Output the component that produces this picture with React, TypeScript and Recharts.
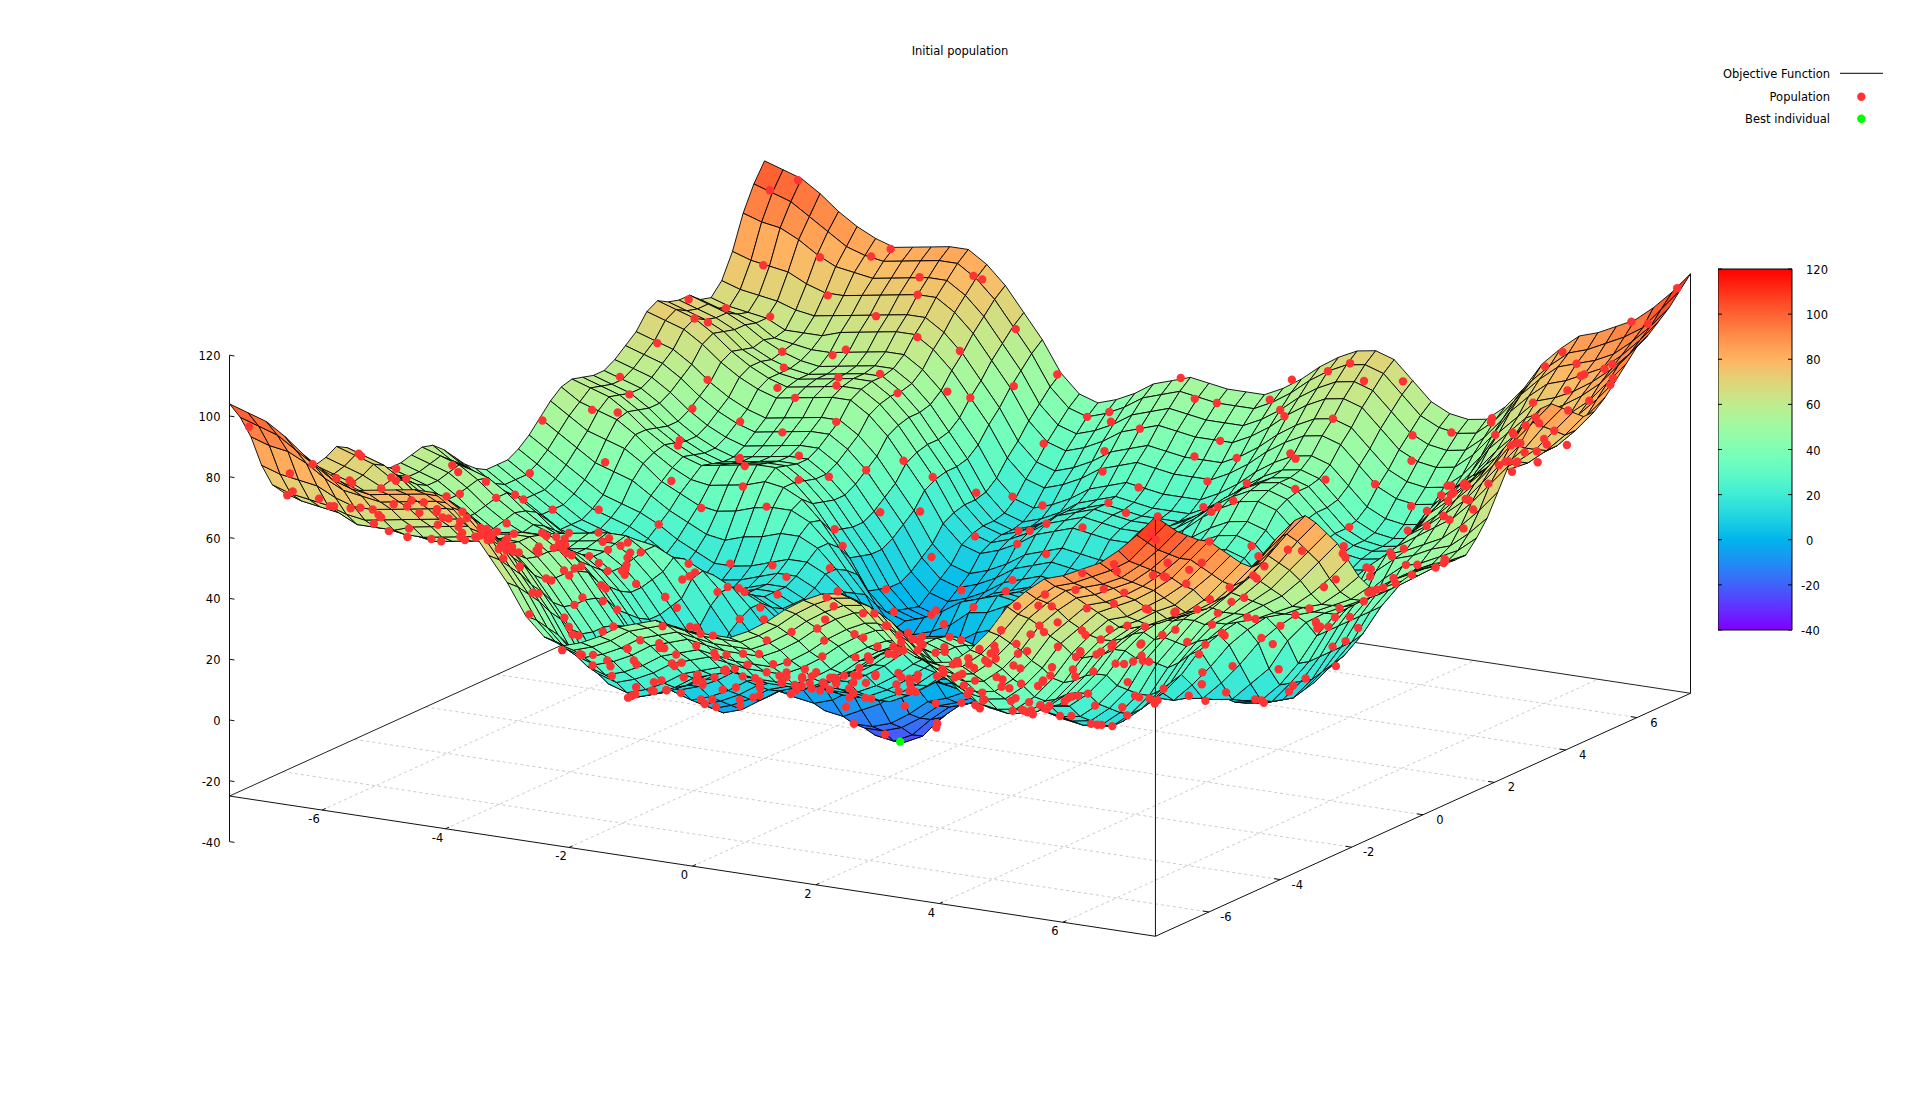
import { ScatterChart, Scatter, XAxis, YAxis, BarChart, Bar } from "recharts";

const W = 1920, H = 1096;
const FONT = "'DejaVu Sans', sans-serif";

const TICKS_XY = [-6, -4, -2, 0, 2, 4, 6];
const TICKS_Z = [-40, -20, 0, 20, 40, 60, 80, 100, 120];
const LEGEND_ITEMS = ["Objective Function", "Population", "Best individual"];
const BEST = { x: -0.97, y: 0, z: -27 };

// Surface heights on a 0.3 grid (x = -7.5..7.5 across a row). Rows are by |y| = 0, 0.3 .. 7.5:
// the surface reads as mirror-symmetric in y, so each row is used for +y and -y.
// Estimated by eye from the edges, basins and humps in the picture; the interior is approximate.
const surfaceRows = [
  [44,40,36,32,28,26,24,21,17,14,11,11,12,14,16,16,13,8,0,-8,-19,-26,-27,-24,-17,-12,-10,-7,-7,-8,-7,-6,-3,4,9,14,18,19,18,13,7,5,5,7,14,24,35,43,49,53,56],
  [44,40,36,32,28,26,24,21,17,14,11,11,12,14,16,16,13,8,0,-7,-17,-24,-25,-22,-16,-11,-9,-6,-6,-7,-6,-5,-2,4,9,14,18,19,18,13,7,5,6,8,15,24,35,44,49,53,56],
  [46,42,38,34,30,28,26,23,19,16,13,13,14,16,18,18,15,10,2,-5,-14,-20,-20,-18,-14,-9,-7,-4,-4,-5,-4,-3,0,6,11,16,20,21,20,15,9,7,8,9,16,24,35,43,49,52,55],
  [49,45,41,37,33,31,29,26,22,19,16,16,17,19,21,21,18,13,5,-2,-11,-17,-17,-15,-11,-6,-4,-1,-1,-2,-1,0,3,9,14,19,23,24,23,18,12,10,10,11,17,25,35,43,47,51,54],
  [53,49,45,41,39,37,33,29,26,23,22,24,25,27,27,24,18,11,3,-6,-12,-13,-10,-7,-2,0,3,2,2,2,3,6,11,17,21,25,26,25,19,14,11,11,12,18,24,34,41,45,48,51,54],
  [57,53,49,47,45,41,36,33,30,29,30,32,33,33,30,24,16,9,-1,-7,-8,-6,-2,2,4,7,6,5,6,6,9,14,19,24,27,28,27,21,15,13,12,13,19,26,34,40,45,47,50,53,58],
  [60,56,54,52,48,43,39,36,35,36,37,39,38,35,29,21,13,4,-3,-4,-2,1,6,7,10,9,8,8,9,11,16,21,25,29,29,28,22,16,13,13,13,19,26,34,40,45,47,50,52,57,63],
  [61,59,57,53,48,44,41,39,40,41,42,42,38,32,24,16,6,0,-2,0,3,7,9,11,10,9,9,9,12,16,21,25,28,29,27,21,15,12,11,12,17,24,33,39,44,46,49,52,57,63,70],
  [60,58,56,52,47,43,40,38,39,40,41,41,37,31,23,15,5,-1,-3,-1,2,6,8,10,9,8,8,8,11,15,20,24,27,28,26,20,14,11,10,11,16,23,33,39,45,49,53,57,63,70,77],
  [59,57,55,51,46,42,39,37,38,39,40,40,36,30,22,14,4,-2,-4,-2,1,5,7,9,8,7,7,7,10,14,19,23,26,27,25,19,13,10,9,10,15,22,32,40,47,51,56,61,68,75,82],
  [59,57,55,51,46,42,39,37,38,39,40,40,36,30,22,14,4,-3,-5,-3,1,5,7,9,8,7,7,7,10,14,19,23,26,27,25,19,13,10,9,10,15,22,32,40,48,53,59,65,72,80,87],
  [61,59,57,53,48,44,41,39,40,41,42,42,38,32,24,16,6,0,-2,0,3,7,9,11,10,9,9,9,12,16,21,25,28,29,27,21,15,12,11,12,17,24,35,43,51,56,62,68,76,84,91],
  [64,62,60,56,51,47,44,42,43,44,45,45,41,35,27,19,9,3,1,3,6,10,12,14,13,12,12,12,15,19,24,28,31,32,30,24,18,15,14,15,20,27,38,46,53,58,64,69,76,84,91],
  [67,65,63,59,54,50,47,45,46,47,48,48,44,38,30,22,12,6,4,6,9,13,15,17,16,15,15,15,18,22,27,31,34,35,33,27,21,18,17,18,23,30,40,47,54,58,63,67,73,81,88],
  [72,70,68,64,59,55,52,50,51,52,53,53,49,43,35,27,17,11,9,11,14,18,20,22,21,20,20,20,23,27,32,36,39,40,38,32,26,23,22,23,28,35,44,51,56,59,62,66,71,78,85],
  [74,72,70,66,61,57,54,52,53,54,55,55,51,45,37,29,19,13,11,13,16,20,22,24,23,22,22,22,25,29,34,38,41,42,40,34,28,25,24,25,30,37,46,52,57,59,61,64,69,75,82],
  [72,70,68,65,60,57,54,53,54,55,56,56,52,46,38,30,20,14,12,14,17,21,23,25,24,23,23,23,26,30,35,39,42,43,41,35,29,26,25,26,31,38,46,52,57,59,62,65,69,75,82],
  [71,69,67,64,59,56,54,53,54,55,56,56,52,46,38,30,20,14,12,14,17,21,23,25,24,23,23,23,26,30,35,39,42,43,41,35,29,26,25,26,31,38,47,53,58,60,63,66,71,78,85],
  [71,69,67,64,60,57,55,54,55,56,57,57,53,47,39,31,21,15,13,15,18,22,24,26,25,24,24,24,27,31,36,40,43,44,42,36,30,27,26,27,32,39,48,55,60,63,67,70,76,82,89],
  [68,66,65,63,59,58,57,57,58,59,60,60,56,50,42,34,24,18,16,18,21,25,27,29,28,27,27,27,30,34,39,43,46,47,45,39,33,30,29,30,35,42,51,58,64,66,70,74,79,86,93],
  [67,65,64,63,60,60,60,62,63,64,65,65,61,55,47,39,29,23,21,23,26,30,32,34,33,32,32,32,35,39,44,48,51,52,50,44,38,35,34,35,40,47,56,62,68,71,74,78,83,90,97],
  [71,69,68,67,65,64,65,66,67,68,69,69,65,59,51,43,33,27,25,27,30,34,36,38,37,36,36,36,39,43,48,52,55,56,54,48,42,39,38,39,44,51,60,66,72,74,77,81,86,92,99],
  [79,77,76,75,72,70,70,71,72,73,74,74,70,64,56,48,38,32,30,32,35,39,41,43,42,41,41,41,44,48,53,57,60,61,59,53,47,44,43,44,49,56,65,71,76,78,81,84,89,95,102],
  [90,88,87,84,80,77,76,75,76,77,78,78,74,68,60,52,42,36,34,36,39,43,45,47,46,45,45,45,48,52,57,61,64,65,63,57,51,48,47,48,53,60,69,75,80,82,84,87,92,98,105],
  [98,96,94,90,86,82,80,79,80,81,82,82,78,72,64,56,46,40,38,40,43,47,49,51,50,49,49,49,52,56,61,65,68,69,67,61,55,52,51,52,57,64,72,78,83,85,88,91,95,102,109],
  [104,102,100,96,91,87,84,82,83,84,85,85,81,75,67,59,49,43,41,43,46,50,52,54,53,52,52,52,55,59,64,68,71,72,70,64,58,55,54,55,60,67,76,82,87,89,92,95,100,106,113],
];

// Population, rough positions by eye (only the density and the spread follow the picture)
const popX = [
  -7.3,-6.5,-6.0,-5.1,-4.7,-3.9,-3.2,-2.7,-1.9,-1.4,-0.6,-0.1,0.8,1.1,2.0,2.6,3.3,3.7,4.6,5.2,5.8,6.7,
  -7.1,-6.8,-5.7,-5.4,-4.4,-3.6,-3.4,-2.4,-2.0,-1.0,-0.4,0.3,0.6,1.5,2.3,2.9,3.1,4.0,4.9,5.5,6.2,7.0,
  -7.4,-6.2,-5.9,-4.9,-4.2,-4.0,-3.0,-2.2,-1.7,-1.2,-0.8,0.1,0.9,1.7,1.9,2.7,3.5,4.3,4.4,5.4,6.4,6.9,
  -6.9,-6.4,-5.5,-5.0,-4.6,-3.7,-2.9,-2.6,-1.5,-1.3,-0.3,0.5,1.0,1.4,2.4,3.0,3.8,4.1,5.0,5.6,6.0,7.2,
  -7.2,-6.6,-5.8,-5.2,-4.1,-3.5,-3.3,-2.3,-1.8,-0.9,-0.5,0.2,0.7,1.6,2.2,2.8,3.4,4.5,4.7,5.9,6.5,7.3,
  -7.0,-6.1,-5.6,-4.8,-4.3,-3.8,-3.1,-2.5,-1.6,-1.1,-0.2,0.4,1.2,1.3,2.1,3.2,3.6,4.2,5.1,5.3,6.3,6.8,
  -7.4,-6.7,-5.3,-5.3,-4.5,-3.9,-2.8,-2.1,-2.0,-0.7,-0.6,0.0,0.9,1.8,2.5,2.6,3.9,4.8,4.5,5.7,6.6,7.1,
  -6.8,-6.3,-5.9,-4.7,-4.0,-3.4,-3.0,-2.4,-1.4,-1.0,0.1,0.6,1.1,2.0,2.3,3.1,3.3,4.0,5.2,5.5,6.1,7.4,
  -7.3,-6.4,-5.5,-5.1,-4.4,-3.6,-2.7,-2.2,-1.9,-0.8,-0.3,0.3,1.4,1.5,2.7,2.9,3.7,4.4,4.9,6.0,6.7,6.9,
  -7.1,-6.0,-5.7,-4.9,-4.2,-3.2,-3.3,-2.6,-1.5,-1.2,-0.1,0.7,0.8,1.9,2.1,3.4,3.5,4.6,5.3,5.8,6.4,7.2,
  -6.9,-6.6,-5.2,-5.4,-4.6,-3.7,-2.9,-2.0,-1.7,-1.1,-0.5,0.2,1.3,1.6,2.6,3.0,4.1,4.3,5.0,5.6,6.2,7.0,
  -7.2,-6.2,-5.8,-4.8,-4.1,-3.5,-3.1,-2.3,-1.3,-0.6,-0.4,0.5,1.0,1.7,2.4,3.2,3.8,4.7,5.1,5.9,6.5,7.3,
  -7.4,-6.5,-5.4,-5.0,-4.3,-4.0,-2.8,-2.5,-1.8,-0.9,-0.2,0.4,1.2,2.0,2.2,2.8,3.6,4.2,5.4,5.7,6.8,6.6,
  -7.0,-6.7,-5.6,-4.7,-4.5,-3.3,-3.0,-2.1,-1.6,-1.3,0.0,0.6,0.9,1.5,2.5,3.3,3.9,4.5,4.8,5.5,6.3,7.1,
  -6.8,-6.1,-5.9,-5.2,-4.0,-3.8,-2.7,-2.4,-1.4,-0.7,-0.3,0.1,1.1,1.8,2.3,3.1,3.4,4.4,5.2,6.0,6.6,7.4,
  -7.3,-6.3,-5.3,-4.9,-4.4,-3.6,-3.2,-2.2,-2.0,-1.0,-0.1,0.7,1.4,1.6,2.7,2.9,4.0,4.6,4.9,5.6,6.1,6.9,
  -7.1,-6.4,-5.7,-5.1,-4.2,-3.4,-2.9,-2.6,-1.5,-0.8,-0.5,0.3,0.8,1.9,2.0,3.0,3.7,4.1,5.0,5.8,6.7,7.2,
  -6.9,-6.8,-5.5,-4.8,-4.6,-3.9,-3.1,-2.3,-1.7,-1.2,-0.2,0.5,1.3,1.4,2.6,3.5,3.6,4.3,5.3,5.4,6.4,7.0,
  -7.4,-6.0,-5.8,-5.3,-4.3,-3.5,-2.8,-2.0,-1.9,-0.6,-0.4,0.2,1.0,1.7,2.2,2.8,3.3,4.7,5.1,5.9,6.2,7.3,
  -7.2,-6.6,-5.2,-5.0,-4.1,-3.7,-3.3,-2.5,-1.3,-1.1,0.1,0.6,0.9,2.0,2.4,3.2,3.9,4.2,5.5,5.7,6.5,6.8,
  -7.0,-6.2,-5.9,-4.7,-4.5,-3.2,-3.0,-2.4,-1.6,-0.9,-0.3,0.4,1.2,1.5,2.5,3.4,3.5,4.5,4.8,6.0,6.3,7.1,
  -7.3,-6.9,-5.6,-5.4,-4.0,-3.8,-2.7,-2.1,-1.8,-0.7,0.0,0.8,1.1,1.8,2.1,2.9,3.8,4.4,5.2,5.6,6.6,7.4,
  // the crowded front band
  -4.8,-4.3,-3.7,-3.1,-2.6,-2.2,-1.6,-1.1,-0.7,-0.2,0.4,0.9,1.3,1.9,2.4,2.8,3.4,3.9,4.3,4.9,
  -4.6,-4.0,-3.5,-2.9,-2.3,-1.9,-1.4,-0.9,-0.4,0.1,0.6,1.2,1.6,2.1,2.7,3.1,3.6,4.1,4.7,5.1,
  -4.9,-4.4,-3.9,-3.3,-2.8,-2.1,-1.7,-1.2,-0.6,0.0,0.5,1.0,1.5,2.0,2.5,3.0,3.5,4.0,4.5,5.0,
  -4.5,-4.1,-3.6,-3.0,-2.5,-2.0,-1.5,-0.8,-0.3,0.2,0.7,1.1,1.8,2.2,2.6,3.3,3.7,4.2,4.8,5.2,
  -4.7,-4.2,-3.8,-3.2,-2.7,-2.4,-1.8,-1.0,-0.5,0.3,0.8,1.4,1.7,2.3,2.9,3.2,3.8,4.4,4.6,5.3,
  -4.4,-3.9,-3.4,-2.8,-2.3,-1.7,-1.3,-0.6,-0.1,0.4,0.9,1.3,1.9,2.4,2.8,3.4,3.9,4.3,4.9,5.4,
  -4.8,-4.3,-3.7,-3.1,-2.6,-2.2,-1.6,-1.1,-0.7,-0.2,0.6,1.0,1.6,2.1,2.7,3.1,3.6,4.1,4.7,5.0,
  -4.6,-4.0,-3.5,-2.9,-2.4,-1.9,-1.4,-0.9,-0.4,0.1,0.5,1.2,1.5,2.0,2.5,3.0,3.5,4.0,4.5,5.1,
  // the left tangle
  -7.2,-6.8,-6.3,-5.9,-5.4,-5.0,-4.6,-4.1,-3.7,-3.2,-7.0,-6.5,-6.1,-5.6,-5.2,-4.8,-4.3,-3.9,-3.4,-3.0,
  -6.9,-6.4,-6.0,-5.5,-5.1,-4.7,-4.2,-3.8,-3.3,-2.9,-7.1,-6.6,-6.2,-5.7,-5.3,-4.9,-4.4,-4.0,-3.5,-3.1,
  // the right tangle
  5.6,5.9,6.2,6.5,6.8,7.1,7.4,5.7,6.0,6.3,6.6,6.9,7.2,5.5,5.8,6.1,6.4,6.7,7.0,7.3,
  5.7,6.1,6.4,6.8,7.1,7.4,5.6,5.9,6.2,6.5,6.9,7.2,5.5,5.8,6.0,6.3,6.6,7.0,7.3,6.7,
];
const popY = [
  -7.3,-6.9,-7.1,-7.4,-6.9,-7.2,-6.8,-7.4,-7.0,-6.9,-7.3,-7.1,-6.8,-7.4,-7.2,-6.9,-7.3,-6.9,-7.1,-7.4,-6.8,-7.2,
  -6.5,-6.2,-6.6,-6.1,-6.4,-6.7,-6.1,-6.5,-6.3,-6.7,-6.2,-6.6,-6.1,-6.4,-6.7,-6.2,-6.5,-6.3,-6.6,-6.1,-6.7,-6.4,
  -5.9,-5.5,-5.8,-5.4,-6.0,-5.6,-5.9,-5.4,-5.7,-6.0,-5.5,-5.8,-5.4,-5.9,-5.6,-6.0,-5.5,-5.7,-5.9,-5.4,-5.8,-5.6,
  -5.1,-4.8,-5.3,-4.9,-5.2,-4.7,-5.0,-5.3,-4.8,-5.1,-4.9,-5.3,-4.7,-5.0,-5.2,-4.8,-5.1,-5.3,-4.7,-5.0,-5.2,-4.9,
  -4.4,-4.1,-4.6,-4.2,-4.5,-4.0,-4.3,-4.6,-4.1,-4.4,-4.0,-4.5,-4.2,-4.6,-4.1,-4.3,-4.5,-4.0,-4.4,-4.2,-4.6,-4.1,
  -3.7,-3.4,-3.9,-3.5,-3.8,-3.3,-3.6,-3.9,-3.4,-3.7,-3.3,-3.8,-3.5,-3.9,-3.4,-3.6,-3.8,-3.3,-3.7,-3.5,-3.9,-3.4,
  -3.0,-2.8,-3.2,-2.7,-3.1,-2.6,-2.9,-3.2,-2.7,-3.0,-2.6,-3.1,-2.8,-3.2,-2.7,-3.0,-2.9,-2.6,-3.1,-2.8,-3.2,-2.7,
  -2.3,-2.1,-2.5,-2.0,-2.4,-1.9,-2.2,-2.5,-2.0,-2.3,-1.9,-2.4,-2.1,-2.5,-2.0,-2.2,-2.4,-1.9,-2.3,-2.1,-2.5,-2.0,
  -1.6,-1.4,-1.8,-1.3,-1.7,-1.2,-1.5,-1.8,-1.3,-1.6,-1.2,-1.7,-1.4,-1.8,-1.3,-1.5,-1.7,-1.2,-1.6,-1.4,-1.8,-1.3,
  -1.0,-0.7,-1.1,-0.6,-1.0,-0.5,-0.8,-1.1,-0.6,-0.9,-0.5,-1.0,-0.7,-1.1,-0.6,-0.8,-1.0,-0.5,-0.9,-0.7,-1.1,-0.6,
  -0.3,0.0,-0.4,0.1,-0.3,0.2,-0.1,-0.4,0.1,-0.2,0.2,-0.3,0.0,-0.4,0.1,-0.1,-0.3,0.2,-0.2,0.0,-0.4,0.1,
  0.4,0.6,0.2,0.7,0.3,0.8,0.5,0.2,0.7,0.4,0.8,0.3,0.6,0.2,0.7,0.5,0.3,0.8,0.4,0.6,0.2,0.7,
  1.1,1.3,0.9,1.4,1.0,1.5,1.2,0.9,1.4,1.1,1.5,1.0,1.3,0.9,1.4,1.2,1.0,1.5,1.1,1.3,0.9,1.4,
  1.8,2.0,1.6,2.1,1.7,2.2,1.9,1.6,2.1,1.8,2.2,1.7,2.0,1.6,2.1,1.9,1.7,2.2,1.8,2.0,1.6,2.1,
  2.5,2.7,2.3,2.8,2.4,2.9,2.6,2.3,2.8,2.5,2.9,2.4,2.7,2.3,2.8,2.6,2.4,2.9,2.5,2.7,2.3,2.8,
  3.1,3.4,3.0,3.5,3.1,3.6,3.3,3.0,3.5,3.2,3.6,3.1,3.4,3.0,3.5,3.3,3.1,3.6,3.2,3.4,3.0,3.5,
  3.8,4.0,3.7,4.2,3.8,4.3,3.9,3.7,4.2,3.8,4.3,3.8,4.1,3.7,4.2,4.0,3.8,4.3,3.9,4.1,3.7,4.2,
  4.5,4.7,4.4,4.9,4.5,5.0,4.6,4.4,4.9,4.5,5.0,4.5,4.8,4.4,4.9,4.7,4.5,5.0,4.6,4.8,4.4,4.9,
  5.2,5.4,5.1,5.6,5.2,5.7,5.3,5.1,5.6,5.2,5.7,5.2,5.5,5.1,5.6,5.4,5.2,5.7,5.3,5.5,5.1,5.6,
  5.9,6.1,5.8,6.3,5.9,6.4,6.0,5.8,6.3,5.9,6.4,5.9,6.2,5.8,6.3,6.1,5.9,6.4,6.0,6.2,5.8,6.3,
  6.6,6.8,6.5,7.0,6.6,7.1,6.7,6.5,7.0,6.6,7.1,6.6,6.9,6.5,7.0,6.8,6.6,7.1,6.7,6.9,6.5,7.0,
  7.3,7.4,7.2,7.4,7.3,7.2,7.4,7.2,7.3,7.4,7.2,7.3,7.4,7.2,7.3,7.4,7.2,7.3,7.4,7.2,7.4,7.3,
  -6.2,-5.8,-6.4,-5.6,-6.1,-5.5,-6.3,-5.9,-5.4,-6.2,-5.7,-6.4,-5.5,-6.0,-5.8,-6.3,-5.6,-6.1,-5.4,-5.9,
  -5.2,-4.9,-5.4,-4.7,-5.1,-5.3,-4.8,-5.0,-5.4,-4.6,-5.2,-4.9,-5.3,-4.7,-5.1,-5.4,-4.8,-5.2,-4.9,-5.0,
  -4.5,-4.1,-4.4,-3.9,-4.3,-4.6,-4.0,-4.5,-4.2,-3.8,-4.4,-4.1,-4.6,-3.9,-4.3,-4.0,-4.5,-3.8,-4.2,-4.4,
  -3.6,-3.3,-3.7,-3.1,-3.5,-3.8,-3.2,-3.6,-3.4,-3.0,-3.7,-3.3,-3.8,-3.1,-3.5,-3.2,-3.6,-3.0,-3.4,-3.7,
  -2.9,-2.6,-2.8,-2.4,-2.7,-3.0,-2.5,-2.9,-2.6,-2.3,-2.8,-2.5,-3.0,-2.4,-2.7,-2.6,-2.9,-2.3,-2.5,-2.8,
  -1.9,-2.2,-1.7,-2.0,-2.3,-1.8,-2.1,-1.6,-2.2,-1.9,-1.7,-2.0,-2.3,-1.8,-2.1,-1.6,-2.2,-1.9,-1.7,-2.0,
  -5.7,-6.0,-5.2,-5.5,-5.8,-5.3,-5.6,-6.1,-5.1,-5.4,-5.9,-5.2,-5.7,-5.5,-6.0,-5.3,-5.8,-5.1,-5.6,-5.4,
  -6.7,-6.9,-6.5,-6.8,-7.0,-6.6,-6.9,-6.4,-6.7,-7.1,-6.5,-6.8,-6.6,-7.0,-6.4,-6.9,-6.7,-6.5,-7.0,-6.6,
  -6.4,-5.9,-5.4,-6.6,-5.2,-4.8,-6.1,-5.6,-4.4,-6.8,-5.0,-6.3,-4.6,-5.8,-6.5,-4.2,-5.3,-6.0,-4.7,-5.5,
  -4.0,-3.6,-6.7,-3.2,-4.3,-6.2,-3.8,-2.9,-5.1,-3.4,-4.5,-2.6,-5.7,-3.0,-4.1,-6.9,-2.4,-3.7,-4.9,-2.2,
  5.8,4.9,6.3,5.2,4.4,6.0,5.5,3.9,5.0,6.6,4.2,5.7,3.4,4.7,6.1,3.0,5.3,4.0,2.7,3.6,
  2.2,1.6,3.1,2.5,1.3,0.8,3.8,1.9,0.2,2.9,-0.4,1.1,-1.0,0.5,3.3,-1.5,-0.1,2.0,-2.1,4.6,
];

const E = 7.5, BASE = -25, STEP = 0.3, N = 51;
const heightAt = (i: number, j: number) => surfaceRows[Math.abs(j - 25)][i];
const nearest = (t: number) => Math.max(0, Math.min(N - 1, Math.round((t + E) / STEP)));

// gnuplot style view: the 3D data go through this before the chart's own x/y scales
const project = (x: number, y: number, z: number) => ({
  sx: 960 + 61.73 * x + 35.67 * y,
  sy: 744.65 + 9.35 * x - 16.2 * y - (z + 25) * 3.04,
});
const palette = (z: number) => {
  const t = Math.min(1, Math.max(0, (z + 40) / 160));
  const r = Math.min(1, Math.abs(2 * t - 0.5)), g = Math.sin(Math.PI * t), b = Math.cos((Math.PI * t) / 2);
  return `rgb(${Math.round(r * 255)},${Math.round(g * 255)},${Math.round(b * 255)})`;
};

// far rows first so the nearer cells paint over them
const cells: any[] = [];
for (let j = N - 2; j >= 0; j--) {
  for (let i = 0; i < N - 1; i++) {
    const c = [[i, j], [i + 1, j], [i + 1, j + 1], [i, j + 1]].map(([a, b]) => {
      const z = heightAt(a, b);
      return { ...project(-E + a * STEP, -E + b * STEP, z), z };
    });
    const sx = (c[0].sx + c[1].sx + c[2].sx + c[3].sx) / 4;
    const sy = (c[0].sy + c[1].sy + c[2].sy + c[3].sy) / 4;
    cells.push({ sx, sy, fill: palette((c[0].z + c[1].z + c[2].z + c[3].z) / 4), pts: c.map((p) => [p.sx - sx, p.sy - sy]) });
  }
}
const population = popX.map((x, k) => project(x, popY[k], heightAt(nearest(x), nearest(popY[k]))));
const bestPoint = [project(BEST.x, BEST.y, BEST.z)];

const seg = (a: number[], b: number[]) => [project(a[0], a[1], a[2]), project(b[0], b[1], b[2])];
const labels = [
  ...TICKS_XY.map((t) => ({ ...project(t, -E, BASE), t, dx: -8, dy: 9, a: "middle" })),
  ...TICKS_XY.map((t) => ({ ...project(E, t, BASE), t, dx: 17, dy: 5, a: "middle" })),
  ...TICKS_Z.map((t) => ({ ...project(-E, -E, t), t, dx: -9, dy: 1, a: "end" })),
];
const tickMarks = [
  ...TICKS_XY.map((t) => seg([t, -E, BASE], [t, -E + 0.1, BASE])),
  ...TICKS_XY.map((t) => seg([E, t, BASE], [E - 0.1, t, BASE])),
  ...TICKS_Z.map((t) => seg([-E, -E, t], [-E + 0.08, -E, t])),
];
const gridLines = [
  ...TICKS_XY.map((t) => seg([t, -E, BASE], [t, E, BASE])),
  ...TICKS_XY.map((t) => seg([-E, t, BASE], [E, t, BASE])),
];
const backEdges = [seg([-E, -E, BASE], [-E, E, BASE]), seg([-E, E, BASE], [E, E, BASE])];
const frontEdges = [
  seg([-E, -E, BASE], [E, -E, BASE]),
  seg([E, -E, BASE], [E, E, BASE]),
  seg([-E, -E, -40], [-E, -E, 120]),
  seg([E, -E, BASE], [E, -E, 113]),
  seg([E, E, BASE], [E, E, 113]),
];

const colorRange = [{ name: "z", range: [-40, 120] }];
const colorStops = [-40, -30, -20, -10, 0, 10, 20, 30, 40, 50, 60, 70, 80, 90, 100, 110, 120];

const None = () => null;
const Quad = (p: any) => (
  <polygon
    points={p.payload.pts.map((q: number[]) => `${p.cx + q[0]},${p.cy + q[1]}`).join(" ")}
    fill={p.payload.fill}
    stroke="#000"
    strokeWidth={0.9}
    strokeLinejoin="round"
  />
);
const Dot = (p: any) => <circle cx={p.cx} cy={p.cy} r={4.2} fill={p.fill} />;
const AxisText = (p: any) => (
  <text x={p.cx + p.payload.dx} y={p.cy + p.payload.dy} textAnchor={p.payload.a} dominantBaseline="central" fontSize={11.5} fontFamily={FONT} fill="#000">
    {p.payload.t}
  </text>
);
const BarTick = (p: any) => (
  <g>
    <line x1={0} x2={4} y1={p.y} y2={p.y} stroke="#000" />
    <line x1={70} x2={74} y1={p.y} y2={p.y} stroke="#000" />
    <text x={88 + (p.payload.value < 0 ? -5 : 0)} y={p.y + 1} dominantBaseline="central" fontSize={11.5} fontFamily={FONT}>
      {p.payload.value}
    </text>
  </g>
);
const lineSeries = (rows: any[], stroke: string, name: string, dash?: string) =>
  rows.map((r, k) => (
    <Scatter key={name + k} data={r} line={{ stroke, strokeDasharray: dash }} shape={None} isAnimationActive={false} />
  ));

export default function App() {
  return (
    <div style={{ position: "absolute", left: 0, top: 0, width: W, height: H, background: "#fff" }}>
      <ScatterChart width={W} height={H} margin={{ top: 0, right: 0, bottom: 0, left: 0 }}>
        <XAxis type="number" dataKey="sx" domain={[0, W]} hide />
        <YAxis type="number" dataKey="sy" domain={[0, H]} reversed hide />
        {lineSeries(gridLines, "#ccc", "grid", "3 3")}
        {lineSeries(backEdges, "#222", "back")}
        <Scatter data={cells} shape={Quad} isAnimationActive={false} />
        {lineSeries(frontEdges, "#111", "front")}
        {lineSeries(tickMarks, "#111", "tick")}
        <Scatter data={labels} shape={AxisText} isAnimationActive={false} />
        <Scatter data={population} fill="#ff3333" shape={Dot} isAnimationActive={false} />
        <Scatter data={bestPoint} fill="#00ff00" shape={Dot} isAnimationActive={false} />
      </ScatterChart>
      <div style={{ position: "absolute", left: 1718, top: 259 }}>
        <BarChart width={140} height={381} data={colorRange} margin={{ top: 10, right: 0, bottom: 10, left: 0 }} barCategoryGap={0}>
          <defs>
            <linearGradient id="cb" x1="0" y1="1" x2="0" y2="0">
              {colorStops.map((z) => (
                <stop key={z} offset={`${(z + 40) / 1.6}%`} stopColor={palette(z)} />
              ))}
            </linearGradient>
          </defs>
          <XAxis dataKey="name" hide />
          <YAxis orientation="right" domain={[-40, 120]} ticks={TICKS_Z} width={66} interval={0} axisLine={false} tickLine={false} tick={BarTick} />
          <Bar dataKey="range" fill="url(#cb)" stroke="#000" isAnimationActive={false} />
        </BarChart>
      </div>
      <div style={{ position: "absolute", left: 760, width: 400, top: 44, textAlign: "center", font: `11.5px ${FONT}` }}>Initial population</div>
      {LEGEND_ITEMS.map((label, k) => (
        <div key={label} style={{ position: "absolute", right: 90, top: [67, 90, 112][k], font: `11.5px ${FONT}`, whiteSpace: "nowrap" }}>
          {label}
        </div>
      ))}
      <svg style={{ position: "absolute", left: 1830, top: 60 }} width={60} height={70}>
        <line x1={10} x2={53} y1={13.3} y2={13.3} stroke="#000" />
        <circle cx={31.3} cy={36.7} r={4.2} fill="#ff3333" />
        <circle cx={31.3} cy={58.7} r={4.2} fill="#00ff00" />
      </svg>
    </div>
  );
}
